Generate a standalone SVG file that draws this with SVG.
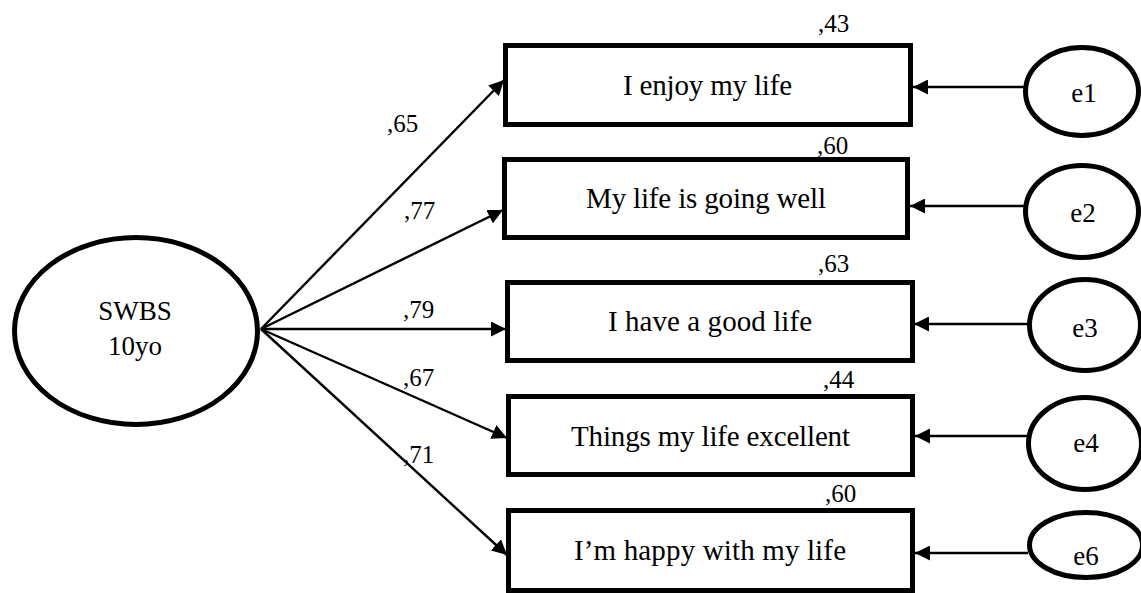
<svg xmlns="http://www.w3.org/2000/svg" width="1141" height="593" viewBox="0 0 1141 593">
<style>
.box{fill:#fff;stroke:#000;stroke-width:5}
.ell{fill:#fff;stroke:#000;stroke-width:5}
.ln{stroke:#000;stroke-width:2.4;fill:none;marker-end:url(#ah)}
.t{font-family:"Liberation Serif","Times New Roman",serif;fill:#000}
.bt{font-size:29px;text-anchor:middle}
.nt{font-size:27px;text-anchor:middle}
.lb{font-size:25px}
</style>
<defs>
<marker id="ah" viewBox="0 0 15 15" refX="15" refY="7.5" markerWidth="15" markerHeight="15" markerUnits="userSpaceOnUse" orient="auto">
<path d="M0,0 L15,7.5 L0,15 z" fill="#000"/>
</marker>
</defs>
<rect width="1141" height="593" fill="#fff"/>
<g id="connectors">
<line class="ln" x1="261" y1="329" x2="504" y2="80"/>
<line class="ln" x1="261" y1="329" x2="503" y2="210"/>
<line class="ln" x1="261" y1="329" x2="506" y2="329"/>
<line class="ln" x1="261" y1="329" x2="507" y2="438"/>
<line class="ln" x1="261" y1="329" x2="507" y2="555"/>
<line class="ln" x1="1024" y1="87" x2="913" y2="87"/>
<line class="ln" x1="1024" y1="206" x2="910" y2="206"/>
<line class="ln" x1="1028" y1="324" x2="914" y2="324"/>
<line class="ln" x1="1027" y1="436" x2="915" y2="436"/>
<line class="ln" x1="1028" y1="553" x2="915" y2="553"/>
<text class="t lb" x="387" y="132">,65</text>
<text class="t lb" x="404" y="219">,77</text>
<text class="t lb" x="403" y="318">,79</text>
<text class="t lb" x="403" y="386">,67</text>
<text class="t lb" x="403" y="463">,71</text>
</g>
<g id="swbs">
<ellipse class="ell" cx="136" cy="331" rx="121.5" ry="93.5"/>
<text class="t nt" x="135" y="320">SWBS</text>
<text class="t nt" x="135" y="355">10yo</text>
</g>
<g id="item1">
<rect class="box" x="505.5" y="45.5" width="405" height="79"/>
<text class="t bt" x="707.5" y="95" textLength="169" lengthAdjust="spacing">I enjoy my life</text>
<text class="t lb" x="818" y="32">,43</text>
</g>
<g id="item2">
<rect class="box" x="504.5" y="159.5" width="403" height="78"/>
<text class="t bt" x="706" y="208" textLength="240" lengthAdjust="spacing">My life is going well</text>
<text class="t lb" x="817" y="154">,60</text>
</g>
<g id="item3">
<rect class="box" x="507.5" y="282.5" width="405" height="78"/>
<text class="t bt" x="710" y="331" textLength="204" lengthAdjust="spacing">I have a good life</text>
<text class="t lb" x="818" y="272">,63</text>
</g>
<g id="item4">
<rect class="box" x="508.5" y="396.5" width="404" height="78"/>
<text class="t bt" x="710.5" y="446" textLength="279" lengthAdjust="spacing">Things my life excellent</text>
<text class="t lb" x="823" y="388">,44</text>
</g>
<g id="item5">
<rect class="box" x="508.5" y="510.5" width="404" height="80"/>
<text class="t bt" x="710" y="560" textLength="272" lengthAdjust="spacing">I’m happy with my life</text>
<text class="t lb" x="825" y="502">,60</text>
</g>
<g id="e1">
<ellipse class="ell" cx="1082" cy="91.5" rx="56.5" ry="44"/>
<text class="t nt" x="1084" y="102">e1</text>
</g>
<g id="e2">
<ellipse class="ell" cx="1082" cy="211.5" rx="56.5" ry="46"/>
<text class="t nt" x="1083" y="222">e2</text>
</g>
<g id="e3">
<ellipse class="ell" cx="1085" cy="325" rx="55.5" ry="45.5"/>
<text class="t nt" x="1085" y="337">e3</text>
</g>
<g id="e4">
<ellipse class="ell" cx="1085" cy="443.5" rx="56.5" ry="46"/>
<text class="t nt" x="1086" y="452">e4</text>
</g>
<g id="e6">
<ellipse class="ell" cx="1086" cy="545" rx="56.5" ry="32.5"/>
<text class="t nt" x="1086" y="565">e6</text>
</g>
</svg>
